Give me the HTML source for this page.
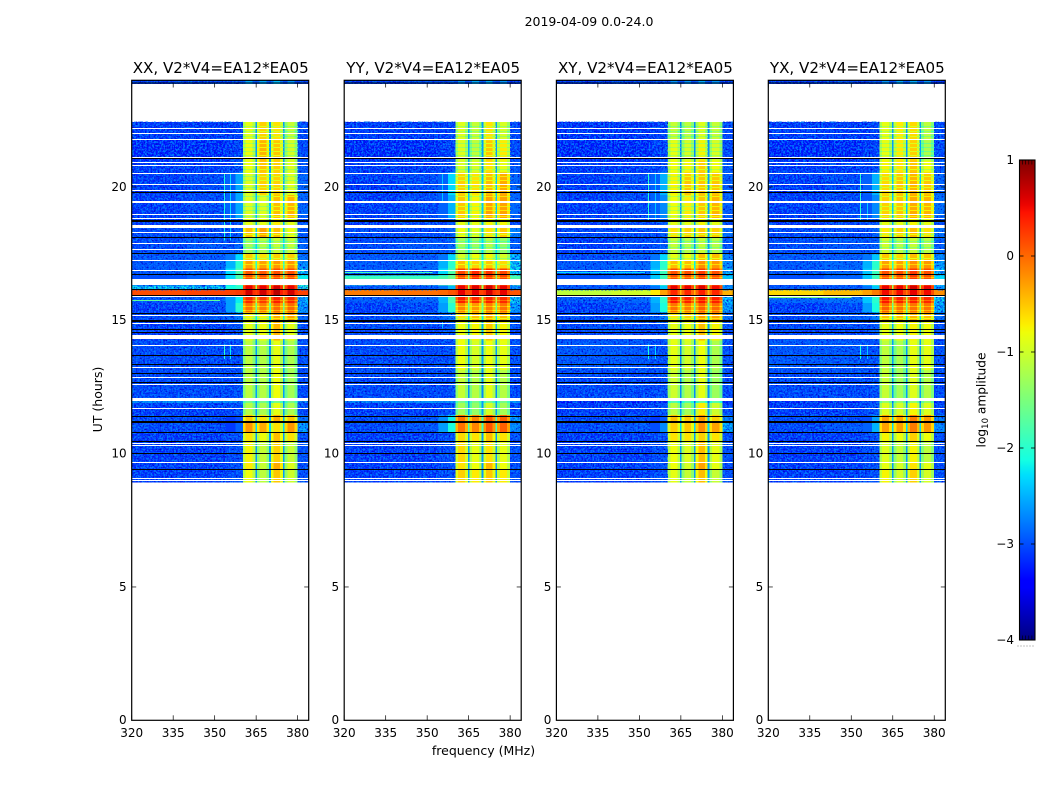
<!DOCTYPE html>
<html>
<head>
<meta charset="utf-8">
<title>2019-04-09 spectrograms</title>
<style>
html,body{margin:0;padding:0;background:#fff;}
svg{display:block;}
text{font-family:"DejaVu Sans","Liberation Sans",sans-serif;fill:#000;}
</style>
</head>
<body>
<svg id="figure" width="1050" height="800" viewBox="0 0 1050 800" xmlns="http://www.w3.org/2000/svg">
  <defs>
    <filter id="speckle-a" x="0" y="0" width="1" height="1" color-interpolation-filters="sRGB">
      <feTurbulence type="fractalNoise" baseFrequency="0.55" numOctaves="2" seed="3"/>
      <feColorMatrix values="0 0 0 0 0  0 0 0 0 0.47  0 0 0 0 1  5 0 0 0 -2.1"/>
    </filter>
    <filter id="speckle-b" x="0" y="0" width="1" height="1" color-interpolation-filters="sRGB">
      <feTurbulence type="fractalNoise" baseFrequency="0.55" numOctaves="2" seed="11"/>
      <feColorMatrix values="0 0 0 0 0  0 0 0 0 0  0 0 0 0 0.8  4 0 0 0 -2.2"/>
    </filter>
    <linearGradient id="jet-gradient" x1="0" y1="1" x2="0" y2="0"></linearGradient>
  </defs>
  <text x="589" y="26" font-size="12.5" text-anchor="middle">2019-04-09 0.0-24.0</text>
  <text x="0" y="0" font-size="12.5" text-anchor="middle" transform="translate(102 399.5) rotate(-90)">UT (hours)</text>
  <text x="483.5" y="755" font-size="12.5" text-anchor="middle">frequency (MHz)</text>
  <text x="0" y="0" font-size="12.2" text-anchor="middle" transform="translate(985.5 400) rotate(-90)">log<tspan font-size="8.5" dy="2.5">10</tspan><tspan dy="-2.5"> amplitude</tspan></text>
</svg>
<script>
// ---------- chart data ----------
var panelTitles = ["XX, V2*V4=EA12*EA05", "YY, V2*V4=EA12*EA05", "XY, V2*V4=EA12*EA05", "YX, V2*V4=EA12*EA05"];
var xTickLabels = [320, 335, 350, 365, 380];
var yTickLabels = [0, 5, 10, 15, 20];
var colorbarTicks = [1, 0, -1, -2, -3, -4];

// frequency cell edges in MHz (out-of-band, then each band as shoulder/centre/shoulder with notches between)
var freqEdges = [320, 340, 354, 357.5, 360.2, 361.2, 363.7, 364.7, 365.3, 366.3, 368.7, 369.7, 370.3, 371.3, 373.7, 374.7, 375.3, 376.3, 378.9, 380, 384];
// which level column each frequency cell reads
var cellColumns = [0, 1, 2, 3, 4, 4, 4, 8, 5, 5, 5, 8, 6, 6, 6, 8, 7, 7, 7, 9];
// passband shape offset per frequency cell (log10)
var cellOffsets = [0, 0, 0, 0, -0.3, 0.05, -0.3, 0, -0.3, 0.05, -0.3, 0, -0.3, 0.05, -0.3, 0, -0.3, 0.05, -0.3, 0];
// UT edges of the time rows, top to bottom (hours)
var utEdges = [24, 23.87, 22.44, 21.75, 21.0, 20.55, 19.69, 18.83, 18.52, 18.08, 17.48, 17.25, 16.95, 16.68, 16.54, 16.31, 16.13, 15.92, 15.64, 15.3, 15.0, 14.25, 13.13, 12.11, 12.0, 11.89, 11.44, 11.21, 10.8, 10.43, 9.68, 9.38, 8.93];

// log10 amplitude per row: [320-340, 340-354, 354-357.5, 357.5-360, band1, band2, band3, band4, notch, 380-384]
var xxLevels = [
[-3.2,-3.1,-3.1,-3.0,-2.6,-2.6,-2.5,-2.7,-3.0,-3.2],
null,
[-3.2,-3.2,-3.2,-3.15,-0.9,-0.6,-0.7,-1.1,-2.6,-3.1],
[-3.3,-3.3,-3.2,-3.15,-0.85,-0.45,-0.55,-1.0,-2.6,-3.1],
[-3.2,-3.2,-3.15,-3.05,-0.85,-0.55,-0.6,-0.95,-2.6,-3.0],
[-3.2,-3.1,-2.9,-2.55,-0.95,-0.6,-0.6,-0.95,-2.5,-2.9],
[-3.2,-3.1,-2.9,-2.55,-0.95,-0.95,-0.5,-0.45,-2.4,-2.9],
[-3.2,-3.1,-3.1,-3.0,-0.9,-0.9,-0.75,-0.9,-2.5,-3.1],
[-3.1,-3.1,-3.1,-2.95,-0.5,-0.35,-0.5,-0.85,-2.4,-3.0],
[-3.1,-3.0,-3.05,-2.9,-1.3,-1.2,-1.1,-1.1,-2.3,-2.9],
[-3.0,-3.0,-2.8,-2.3,-0.6,-0.7,-0.6,-0.6,-2.2,-2.8],
[-3.0,-2.9,-2.5,-2.0,-0.35,-0.35,-0.3,-0.3,-2.0,-2.6],
[-3.0,-2.9,-2.3,-1.8,0.05,0.05,0.1,0.1,-1.7,-2.2],
[-3.0,-2.9,-2.3,-1.8,0.1,0.1,0.15,0.15,-1.7,-2.2],
[-3.0,-2.9,-2.3,-1.8,0.1,0.1,0.15,0.15,-1.7,-2.2],
[-2.2,-2.2,-2.1,-2.0,0.5,0.5,0.6,0.5,-1.2,-2.0],
[0.15,0.2,0.2,0.25,0.6,0.6,0.7,0.6,0.2,0.2],
[-3.0,-3.0,-2.6,-2.2,0.3,0.2,0.35,0.3,-1.0,-2.4],
[-3.2,-3.1,-2.6,-2.0,-0.1,-0.15,-0.05,-0.05,-1.6,-2.5],
[-3.1,-3.0,-2.9,-2.7,-0.8,-0.8,-0.4,-0.35,-2.2,-2.9],
[-3.2,-3.2,-3.1,-3.0,-0.9,-0.85,-0.45,-0.9,-2.5,-3.05],
[-3.1,-3.1,-3.1,-3.05,-1.15,-1.2,-0.9,-1.25,-2.6,-3.05],
[-3.1,-3.1,-3.1,-3.05,-1.15,-1.2,-0.85,-1.3,-2.6,-3.1],
[-3.1,-3.1,-3.1,-3.05,-1.15,-1.2,-0.85,-1.3,-2.6,-3.1],
[-2.6,-2.6,-2.6,-2.6,-1.6,-1.6,-1.6,-1.6,-2.6,-2.6],
[-3.2,-3.2,-3.1,-3.05,-1.2,-1.25,-0.9,-1.25,-2.6,-3.1],
[-3.1,-3.1,-3.1,-3.0,-0.55,-0.7,-0.4,-0.55,-2.5,-2.8],
[-3.1,-3.1,-3.1,-2.9,-0.3,-0.4,-0.7,-0.3,-2.3,-2.5],
[-3.2,-3.2,-3.1,-3.05,-0.7,-0.85,-0.5,-0.7,-2.6,-3.05],
[-3.2,-3.2,-3.1,-3.05,-0.8,-1.1,-0.6,-1.1,-2.6,-3.05],
[-3.2,-3.2,-3.1,-3.05,-0.75,-1.1,-0.4,-0.95,-2.6,-3.05],
[-3.2,-3.2,-3.1,-3.05,-0.85,-1.15,-0.55,-1.05,-2.6,-3.05]
];
var yyLevels = [
[-3.2,-3.1,-3.1,-3.0,-2.7,-2.6,-2.6,-2.7,-3.0,-3.2],
null,
[-3.2,-3.2,-3.2,-3.15,-0.95,-1.1,-0.7,-1.0,-2.6,-3.1],
[-3.3,-3.3,-3.2,-3.15,-0.95,-1.15,-0.55,-0.75,-2.6,-3.1],
[-3.2,-3.2,-3.15,-3.05,-1.0,-1.0,-0.7,-0.9,-2.6,-3.0],
[-3.2,-3.1,-2.9,-2.3,-0.6,-0.7,-0.5,-0.4,-2.4,-2.9],
[-3.2,-3.1,-2.9,-2.5,-0.55,-0.8,-0.35,-0.35,-2.4,-2.9],
[-3.2,-3.1,-3.1,-3.0,-0.9,-0.9,-0.8,-0.8,-2.5,-3.05],
[-3.1,-3.1,-3.1,-2.9,-0.85,-0.95,-0.7,-0.55,-2.4,-2.7],
[-3.1,-3.0,-3.05,-2.9,-1.3,-1.35,-1.2,-1.4,-2.3,-2.95],
[-3.0,-3.0,-2.8,-2.3,-1.0,-0.85,-0.8,-1.0,-2.2,-2.3],
[-3.0,-2.9,-2.5,-2.0,-0.5,-0.6,-0.55,-0.65,-2.0,-2.2],
[-3.0,-2.9,-2.3,-1.8,0.15,0.3,0.25,0.15,-1.7,-2.2],
[-1.9,-1.9,-1.8,-1.6,0.15,0.3,0.25,0.15,-1.5,-1.8],
[-1.9,-1.9,-1.8,-1.6,0.15,0.3,0.25,0.15,-1.5,-1.8],
[-3.0,-3.0,-2.8,-2.5,0.5,0.55,0.6,0.5,-1.2,-2.6],
[-0.1,-0.05,0.0,0.1,0.5,0.5,0.6,0.5,0.2,0.1],
[-3.0,-2.9,-2.5,-1.8,0.35,0.3,0.35,0.3,-1.1,-2.2],
[-3.2,-3.1,-2.6,-2.0,-0.2,-0.3,-0.15,-0.1,-1.6,-2.5],
[-3.1,-3.0,-2.9,-2.7,-0.7,-0.5,-0.4,-0.5,-2.2,-2.95],
[-3.1,-3.1,-3.1,-3.0,-0.85,-0.8,-0.55,-0.8,-2.5,-3.05],
[-3.1,-3.1,-3.1,-3.05,-0.85,-1.0,-0.85,-0.9,-2.6,-3.05],
[-3.1,-3.1,-3.1,-3.05,-1.1,-1.2,-0.9,-1.2,-2.7,-3.1],
[-3.1,-3.1,-3.1,-3.05,-1.1,-1.2,-0.9,-1.2,-2.7,-3.1],
[-2.6,-2.6,-2.6,-2.6,-1.6,-1.6,-1.6,-1.6,-2.6,-2.6],
[-3.2,-3.2,-3.1,-3.05,-1.3,-1.4,-1.0,-1.3,-2.6,-3.1],
[-3.1,-3.0,-2.7,-2.2,-0.1,-0.2,0.05,0.0,-1.9,-2.5],
[-3.1,-3.0,-2.6,-2.1,-0.1,-0.2,0.05,0.0,-1.9,-2.6],
[-3.2,-3.2,-3.1,-3.05,-0.65,-0.7,-0.5,-0.7,-2.6,-3.05],
[-3.2,-3.2,-3.1,-3.05,-0.65,-0.9,-0.7,-0.9,-2.6,-3.05],
[-3.2,-3.2,-3.1,-3.05,-0.7,-0.85,-0.45,-0.85,-2.6,-3.05],
[-3.2,-3.2,-3.1,-3.05,-0.6,-0.75,-0.55,-0.75,-2.6,-3.05]
];
var xyLevels = [
[-3.2,-3.1,-3.1,-3.0,-2.7,-2.7,-2.6,-2.7,-3.0,-3.2],
null,
[-3.25,-3.25,-3.2,-3.15,-1.1,-1.15,-0.95,-1.1,-2.7,-3.1],
[-3.3,-3.3,-3.2,-3.15,-0.9,-1.0,-0.8,-1.0,-2.7,-3.1],
[-3.2,-3.2,-3.15,-3.05,-0.85,-0.8,-0.6,-0.85,-2.7,-3.0],
[-3.2,-3.1,-2.9,-2.5,-0.8,-0.55,-0.55,-0.55,-2.6,-2.95],
[-3.2,-3.1,-2.9,-2.7,-0.85,-0.75,-0.55,-0.45,-2.6,-2.95],
[-3.2,-3.1,-3.1,-3.0,-0.9,-0.9,-0.8,-0.9,-2.6,-3.05],
[-3.1,-3.1,-3.1,-2.95,-0.7,-0.6,-0.55,-0.6,-2.6,-2.8],
[-3.2,-3.1,-3.05,-2.95,-1.1,-1.2,-1.1,-1.2,-2.6,-3.0],
[-3.1,-3.0,-2.8,-2.3,-0.9,-0.85,-0.5,-0.5,-2.4,-2.7],
[-3.0,-2.9,-2.5,-2.0,-0.5,-0.5,-0.25,-0.3,-2.2,-2.6],
[-3.0,-2.9,-2.4,-1.9,0.1,0.1,0.2,0.1,-1.9,-2.4],
[-3.0,-2.9,-2.4,-1.9,0.1,0.1,0.2,0.1,-1.9,-2.4],
[-3.0,-2.9,-2.4,-1.9,0.1,0.1,0.2,0.1,-1.9,-2.4],
[-3.0,-3.0,-2.8,-2.4,0.5,0.5,0.55,0.45,-1.2,-2.6],
[-1.1,-1.0,-0.7,-0.3,0.3,0.3,0.35,0.3,-0.4,-0.4],
[-3.0,-2.9,-2.5,-2.0,0.4,0.35,0.4,0.35,-1.1,-2.3],
[-3.2,-3.1,-2.6,-2.1,-0.1,-0.15,0.0,-0.05,-1.6,-2.5],
[-3.1,-3.0,-2.9,-2.7,-0.75,-0.6,-0.35,-0.35,-2.3,-2.8],
[-3.1,-3.1,-3.1,-3.0,-0.9,-0.85,-0.5,-0.8,-2.6,-3.05],
[-3.0,-3.0,-3.05,-3.05,-0.9,-1.0,-0.85,-1.25,-2.7,-3.05],
[-3.1,-3.1,-3.1,-3.05,-1.05,-1.2,-0.9,-1.35,-2.7,-3.1],
[-3.1,-3.1,-3.1,-3.05,-1.05,-1.2,-0.9,-1.35,-2.7,-3.1],
[-3.35,-3.35,-3.35,-3.3,-1.8,-1.8,-1.7,-1.8,-2.9,-3.3],
[-3.2,-3.2,-3.1,-3.05,-1.15,-1.3,-0.75,-1.05,-2.6,-3.1],
[-3.1,-3.1,-3.1,-2.95,-0.5,-0.55,-0.3,-0.6,-2.5,-2.7],
[-3.1,-3.0,-3.0,-2.7,-0.6,-0.55,-0.25,-0.35,-2.3,-2.4],
[-3.2,-3.2,-3.1,-3.05,-0.7,-0.7,-0.6,-0.7,-2.6,-3.05],
[-3.2,-3.2,-3.1,-3.05,-0.85,-0.95,-0.5,-0.9,-2.6,-3.05],
[-3.2,-3.2,-3.1,-3.05,-0.85,-1.0,-0.35,-0.9,-2.6,-3.05],
[-3.2,-3.2,-3.1,-3.05,-0.9,-1.1,-0.5,-1.1,-2.6,-3.05]
];
var yxLevels = [
[-3.2,-3.1,-3.1,-3.0,-2.7,-2.6,-2.6,-2.7,-3.0,-3.2],
null,
[-3.2,-3.2,-3.2,-3.15,-0.9,-0.75,-0.65,-1.15,-2.6,-3.1],
[-3.3,-3.3,-3.2,-3.15,-0.9,-0.75,-0.6,-1.25,-2.6,-3.1],
[-3.2,-3.2,-3.15,-3.05,-0.8,-0.7,-0.55,-0.85,-2.6,-3.0],
[-3.2,-3.1,-2.9,-2.5,-0.65,-0.55,-0.45,-0.55,-2.4,-2.9],
[-3.2,-3.1,-2.95,-2.7,-0.6,-0.55,-0.4,-0.45,-2.4,-2.8],
[-3.2,-3.1,-3.1,-3.0,-0.9,-0.9,-0.8,-0.9,-2.5,-3.05],
[-3.1,-3.1,-3.1,-2.95,-0.75,-0.6,-0.5,-0.7,-2.5,-2.8],
[-3.1,-3.0,-3.05,-2.95,-1.05,-1.2,-1.1,-1.2,-2.4,-2.95],
[-3.0,-3.0,-2.8,-2.4,-0.55,-0.65,-0.5,-0.55,-2.2,-2.6],
[-3.0,-2.9,-2.5,-2.0,-0.35,-0.35,-0.25,-0.3,-2.0,-2.5],
[-3.0,-2.9,-2.4,-1.9,0.1,0.1,0.2,0.1,-1.8,-2.3],
[-3.0,-2.9,-2.4,-1.9,0.1,0.1,0.2,0.1,-1.8,-2.3],
[-3.0,-2.9,-2.4,-1.9,0.1,0.1,0.2,0.1,-1.8,-2.3],
[-3.0,-3.0,-2.8,-2.4,0.5,0.5,0.6,0.5,-1.2,-2.5],
[-0.6,-0.45,-0.3,-0.1,0.45,0.45,0.5,0.45,-0.1,-0.2],
[-2.9,-2.8,-2.4,-2.0,0.4,0.35,0.35,0.3,-1.1,-2.2],
[-3.2,-3.1,-2.6,-2.1,0.0,-0.1,-0.1,-0.1,-1.6,-2.4],
[-3.1,-3.0,-2.95,-2.7,-0.5,-0.5,-0.45,-0.5,-2.2,-2.8],
[-3.1,-3.1,-3.1,-3.0,-0.9,-0.85,-0.8,-0.85,-2.5,-3.05],
[-3.0,-3.0,-3.05,-3.05,-1.15,-1.25,-0.9,-0.9,-2.6,-3.05],
[-3.1,-3.1,-3.1,-3.05,-1.1,-1.3,-0.95,-1.2,-2.6,-3.1],
[-3.1,-3.1,-3.1,-3.05,-1.1,-1.3,-0.95,-1.2,-2.6,-3.1],
[-3.3,-3.3,-3.3,-3.3,-1.4,-1.4,-1.4,-1.4,-2.8,-3.3],
[-3.2,-3.2,-3.1,-3.05,-0.95,-1.0,-0.8,-0.95,-2.6,-3.1],
[-3.1,-3.1,-3.0,-2.6,-0.35,-0.35,-0.15,-0.3,-2.3,-2.7],
[-3.1,-3.0,-2.9,-2.5,-0.35,-0.35,-0.15,-0.3,-2.3,-2.6],
[-3.2,-3.2,-3.1,-3.05,-0.8,-0.85,-0.6,-0.85,-2.6,-3.05],
[-3.2,-3.2,-3.1,-3.05,-0.95,-1.1,-0.8,-1.15,-2.6,-3.05],
[-3.2,-3.2,-3.1,-3.05,-0.9,-1.0,-0.7,-0.9,-2.6,-3.05],
[-3.2,-3.2,-3.1,-3.05,-0.8,-1.0,-0.6,-1.0,-2.6,-3.05]
];
var panelLevels = [xxLevels, yyLevels, xyLevels, yxLevels];

// flagged time rows (hours), common to all correlations
var whiteRowsUT = [22.19,22.0,21.77,21.11,20.9,20.79,20.5,20.09,19.85,19.47,19.41,18.98,18.83,18.31,17.87,17.64,17.23,16.85,15.91,15.18,14.88,14.05,13.22,12.85,12.59,11.69,10.39,10.3,9.66,9.06,8.99];
var whiteBlocksUT = [[18.56,18.44],[16.54,16.31],[14.45,14.29],[12.10,12.0]];
var blackRowsUT = [21.08,19.79,18.73,18.69,18.09,17.51,16.71,16.14,15.94,15.25,15.01,14.96,14.64,14.54,13.69,13.34,13.0,12.66,11.4,11.19,11.16,10.79,10.44,10.02,9.4];
// short time rows where the passband signal dips (hours)
var bandDipRowsUT = [22.28,22.09,21.9,21.64,21.49,21.34,21.19,20.66,20.4,20.25,19.99,19.65,19.28,19.13,18.9,18.23,17.96,17.74,17.33,17.1,16.61,15.75,15.53,15.38,15.08,14.66];
var bandDipDepth = [0.35];

// narrow interference in frequency: [panel, frequency MHz, UT top, UT bottom, log amplitude]
var rfiLines = [
[0,353.3,20.5,18.0,-2.1],[0,355.7,20.5,18.0,-2.3],[0,353.3,14.1,13.55,-2.0],[0,355.7,14.1,13.55,-2.2],
[1,355.3,20.5,19.4,-2.4],[1,355.3,15.0,14.7,-2.4],
[2,353.2,20.5,18.7,-2.0],[2,355.7,20.5,18.7,-2.4],[2,353.2,14.1,13.55,-2.1],[2,355.7,14.1,13.55,-2.3],
[3,353.2,20.5,18.7,-2.0],[3,355.7,19.5,18.7,-2.4],[3,353.2,14.1,13.55,-2.1],[3,355.7,14.1,13.55,-2.4]
];
// narrow interference in time: [panel, UT, start MHz, end MHz, log amplitude]
var rfiRows = [
[0,15.75,320,352,-1.7],[1,16.82,320,352,-1.9],[2,16.82,320,352,-2.3],[3,15.87,320,350,-1.5]
];
// ---------- end data ----------

var NS = "http://www.w3.org/2000/svg";
var svg = document.getElementById("figure");
var panelLeft = [131.7, 344.2, 556.4, 768.3];
var panelWidth = 177;
var axisBottom = 720.3;
var axisTop = 80.3;

function xScale(panel, mhz) { return panelLeft[panel] + (mhz - 320) * panelWidth / 64; }
function yScale(ut) { return axisBottom - ut * (axisBottom - axisTop) / 24; }

function jetChannel(t, pts) {
  for (var i = 1; i < pts.length; i++) {
    if (t <= pts[i][0]) {
      var a = pts[i - 1], b = pts[i];
      return a[1] + (b[1] - a[1]) * (t - a[0]) / (b[0] - a[0]);
    }
  }
  return pts[pts.length - 1][1];
}
var jetR = [[0,0],[0.35,0],[0.66,1],[0.89,1],[1,0.5]];
var jetG = [[0,0],[0.125,0],[0.375,1],[0.64,1],[0.91,0],[1,0]];
var jetB = [[0,0.5],[0.11,1],[0.34,1],[0.65,0],[1,0]];
function jet(t) {
  t = Math.max(0, Math.min(1, t));
  return "rgb(" + Math.round(255 * jetChannel(t, jetR)) + "," + Math.round(255 * jetChannel(t, jetG)) + "," + Math.round(255 * jetChannel(t, jetB)) + ")";
}
function colorOf(level) { return jet((level + 4) / 5); }

function shape(parent, tag, attrs) {
  var e = document.createElementNS(NS, tag);
  for (var k in attrs) e.setAttribute(k, attrs[k]);
  parent.appendChild(e);
  return e;
}

function rowIndexAt(ut) {
  for (var i = 0; i < utEdges.length - 1; i++) {
    if (ut <= utEdges[i] && ut > utEdges[i + 1]) return i;
  }
  return -1;
}

// mottling spans: [UT top, UT bottom, upper MHz of the low-side noise]
var textureSpans = [[24,23.87,360.2],[22.44,20.55,360.2],[20.55,18.83,354],[18.83,17.48,360.2],[17.48,16.68,354],[16.31,16.13,354],[15.92,15.3,354],[15.3,11.44,360.2],[11.44,10.8,354],[10.8,8.93,360.2]];

panelTitles.forEach(function (title, p) {
  var g = shape(svg, "g", {});
  
  

  var heat = shape(g, "g", {"shape-rendering": "crispEdges"});
  
  

  panelLevels[p].forEach(function (row, r) {
    if (!row) return;
    for (var c = 0; c < cellColumns.length; c++) {
      var x0 = xScale(p, freqEdges[c]), x1 = xScale(p, freqEdges[c + 1]);
      var y0 = yScale(utEdges[r]), y1 = yScale(utEdges[r + 1]);
      var cell = shape(heat, "rect", {x: x0, y: y0, width: x1 - x0 + 0.3, height: y1 - y0 + 0.3, fill: colorOf(row[cellColumns[c]] + cellOffsets[c])});
      
      
    }
  });

  bandDipRowsUT.forEach(function (ut) {
    var r = rowIndexAt(ut);
    var row = r >= 0 ? panelLevels[p][r] : null;
    if (!row) return;
    for (var c = 0; c < cellColumns.length; c++) {
      var col = cellColumns[c];
      if (col < 4 || col > 7) continue;
      var dip = shape(heat, "rect", {
        x: xScale(p, freqEdges[c]), y: Math.round(yScale(ut)),
        width: xScale(p, freqEdges[c + 1]) - xScale(p, freqEdges[c]) + 0.3, height: 1,
        fill: colorOf(row[col] + cellOffsets[c] - bandDipDepth[0])
      });
      
      
    }
  });

  // receiver noise mottling over the quiet out-of-band channels
  textureSpans.forEach(function (span) {
    ["speckle-a", "speckle-b"].forEach(function (fid) {
      var low = shape(g, "rect", {
        x: xScale(p, 320), y: yScale(span[0]),
        width: xScale(p, span[2]) - xScale(p, 320),
        height: yScale(span[1]) - yScale(span[0]),
        filter: "url(#" + fid + ")"
      });
      
      
      var high = shape(g, "rect", {
        x: xScale(p, 380.3), y: yScale(span[0]),
        width: xScale(p, 384) - xScale(p, 380.3),
        height: yScale(span[1]) - yScale(span[0]),
        filter: "url(#" + fid + ")"
      });
      
      
    });
  });

  rfiLines.forEach(function (line) {
    if (line[0] !== p) return;
    var rf = shape(g, "rect", {x: Math.round(xScale(p, line[1])), y: yScale(line[2]), width: 1, height: yScale(line[3]) - yScale(line[2]), fill: colorOf(line[4]), "shape-rendering": "crispEdges"});
    
    
  });
  rfiRows.forEach(function (line) {
    if (line[0] !== p) return;
    var rr = shape(g, "rect", {x: xScale(p, line[2]), y: Math.round(yScale(line[1])), width: xScale(p, line[3]) - xScale(p, line[2]), height: 1, fill: colorOf(line[4]), "shape-rendering": "crispEdges"});
    
    
  });

  var flags = shape(g, "g", {"shape-rendering": "crispEdges"});
  
  
  whiteBlocksUT.forEach(function (b) {
    var wb = shape(flags, "rect", {x: panelLeft[p], y: Math.round(yScale(b[0])), width: panelWidth, height: Math.round(yScale(b[1]) - yScale(b[0])), fill: "#fff"});
    
    
  });
  whiteRowsUT.forEach(function (ut) {
    var wr = shape(flags, "rect", {x: panelLeft[p], y: Math.round(yScale(ut) - 0.5), width: panelWidth, height: 1, fill: "#fff"});
    
    
  });
  blackRowsUT.forEach(function (ut) {
    var br = shape(flags, "rect", {x: panelLeft[p], y: Math.round(yScale(ut) - 0.5), width: panelWidth, height: 1, fill: "#000"});
    
    
  });

  // axes frame
  var frame = shape(g, "rect", {x: panelLeft[p], y: axisTop, width: panelWidth, height: axisBottom - axisTop, fill: "none", stroke: "#000", "stroke-width": 1.2});
  
  
  var topLine = shape(g, "line", {x1: panelLeft[p], x2: panelLeft[p] + panelWidth, y1: 83, y2: 83, stroke: "#000", "stroke-width": 1});
  
  

  var ttl = shape(g, "text", {x: panelLeft[p] + panelWidth / 2 + 0.5, y: 73, "font-size": 15.1, "text-anchor": "middle"});
  ttl.textContent = title;
  
  

  xTickLabels.forEach(function (v) {
    var x = xScale(p, v);
    var t1 = shape(g, "line", {x1: x, x2: x, y1: axisBottom, y2: axisBottom - 5, stroke: "#000", "stroke-width": 0.7});
    
    
    var t2 = shape(g, "line", {x1: x, x2: x, y1: 83, y2: 87.5, stroke: "#000", "stroke-width": 0.7});
    
    
    var lab = shape(g, "text", {x: x, y: 737, "font-size": 12, "text-anchor": "middle"});
    lab.textContent = v;
    
    
  });
  yTickLabels.forEach(function (v) {
    var y = yScale(v);
    if (v > 0) {
      var t1 = shape(g, "line", {x1: panelLeft[p], x2: panelLeft[p] + 4.5, y1: y, y2: y, stroke: "#000", "stroke-width": 0.7});
      
      
      var t2 = shape(g, "line", {x1: panelLeft[p] + panelWidth - 4.5, x2: panelLeft[p] + panelWidth, y1: y, y2: y, stroke: "#000", "stroke-width": 0.7});
      
      
    }
    var lab = shape(g, "text", {x: panelLeft[p] - 5, y: y + 3.8, "font-size": 12, "text-anchor": "end"});
    lab.textContent = v;
    
    
  });
});

// colorbar
var grad = document.getElementById("jet-gradient");
for (var s = 0; s <= 64; s++) {
  shape(grad, "stop", {offset: (s / 64), "stop-color": jet(s / 64)});
}
var cbLeft = 1019.5, cbRight = 1035, cbTop = 160, cbBottom = 640;
function cbScale(v) { return cbBottom - (v + 4) * (cbBottom - cbTop) / 5; }
var cb = shape(svg, "g", {});


var ramp = shape(cb, "rect", {x: cbLeft, y: cbTop, width: cbRight - cbLeft, height: cbBottom - cbTop, fill: "url(#jet-gradient)", stroke: "#000", "stroke-width": 1.1});


colorbarTicks.forEach(function (v) {
  var y = cbScale(v);
  var t1 = shape(cb, "line", {x1: cbLeft, x2: cbLeft + 4, y1: y, y2: y, stroke: "#000", "stroke-width": 0.8});
  
  
  var t2 = shape(cb, "line", {x1: cbRight - 4, x2: cbRight, y1: y, y2: y, stroke: "#000", "stroke-width": 0.8});
  
  
  var lab = shape(cb, "text", {x: 1014, y: y + 4, "font-size": 12, "text-anchor": "end"});
  lab.textContent = String(v).replace("-", "\u2212");
  
  
});
[cbTop, cbBottom - 4.5].forEach(function (y0) {
  [0.2, 0.4, 0.6, 0.8].forEach(function (f) {
    var m = shape(cb, "line", {x1: cbLeft + (cbRight - cbLeft) * f, x2: cbLeft + (cbRight - cbLeft) * f, y1: y0, y2: y0 + 4.5, stroke: "#000", "stroke-width": 0.6});
    
    
  });
});
var dots = shape(cb, "line", {x1: 1017.5, x2: 1035, y1: 646, y2: 646, stroke: "#888", "stroke-width": 1, "stroke-dasharray": "1 2"});


</script>
</body>
</html>
